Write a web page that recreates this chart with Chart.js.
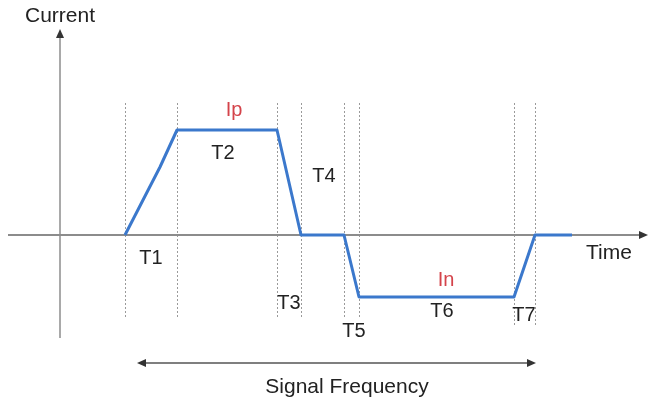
<!DOCTYPE html>
<html>
<head>
<meta charset="utf-8">
<script src="https://cdn.jsdelivr.net/npm/chart.js@4"></script>
<style>
  body { margin: 0; background: #fff; }
  #wrap { width: 650px; height: 403px; }
</style>
</head>
<body>
<div id="wrap"><canvas id="c" width="650" height="403"></canvas></div>
<script>
// waveform (time, current) - arbitrary units
const waveTime = [125, 160, 177, 277, 301, 344, 359, 514, 535, 572];
const waveCurrent = [0, 68, 105, 105, 0, 0, -62, -62, 0, 0];

// dashed marker times (T1..T7 boundaries)
const markTimes = [125, 177, 277, 301, 344, 359, 514, 535];
const markBottom = [-82, -82, -82, -82, -82, -82, -92, -92];

// phase labels
const labelText = ["T1", "T2", "T3", "T4", "T5", "T6", "T7"];
const labelTime = [151, 223, 289, 324, 354, 442, 524];
const labelCurrent = [-23, 82, -68, 59, -96, -76, -80];

// level labels
const levelText = ["Ip", "In"];
const levelTime = [234, 446];
const levelCurrent = [125, -45];

const xRange = [0, 650];
const yRange = [-168, 235];

const blue = "#3b78cc";
const axisGray = "#8c8c8c";
const textColor = "#222";
const red = "#d4434a";

function arrowHead(ctx, x, y, dir) {
  // dir: 'right' | 'left' | 'up'
  ctx.beginPath();
  if (dir === "right") { ctx.moveTo(x, y); ctx.lineTo(x - 9, y - 4); ctx.lineTo(x - 9, y + 4); }
  if (dir === "left") { ctx.moveTo(x, y); ctx.lineTo(x + 9, y - 4); ctx.lineTo(x + 9, y + 4); }
  if (dir === "up") { ctx.moveTo(x, y); ctx.lineTo(x - 4, y + 9); ctx.lineTo(x + 4, y + 9); }
  ctx.closePath();
  ctx.fill();
}

const diagram = {
  id: "diagram",
  beforeDatasetsDraw(chart) {
    const ctx = chart.ctx;
    const xs = chart.scales.x, ys = chart.scales.y;
    ctx.save();
    // dashed markers
    ctx.strokeStyle = "#9a9a9a";
    ctx.lineWidth = 1;
    ctx.setLineDash([2, 2]);
    markTimes.forEach((t, i) => {
      const px = Math.round(xs.getPixelForValue(t)) + 0.5;
      ctx.beginPath();
      ctx.moveTo(px, ys.getPixelForValue(132));
      ctx.lineTo(px, ys.getPixelForValue(markBottom[i]));
      ctx.stroke();
    });
    ctx.setLineDash([]);
    // time axis
    const y0 = ys.getPixelForValue(0);
    ctx.strokeStyle = axisGray;
    ctx.fillStyle = "#333";
    ctx.lineWidth = 2;
    ctx.beginPath();
    ctx.moveTo(xs.getPixelForValue(8), y0);
    ctx.lineTo(xs.getPixelForValue(640), y0);
    ctx.stroke();
    arrowHead(ctx, xs.getPixelForValue(648), y0, "right");
    // current axis
    const x0 = xs.getPixelForValue(60);
    ctx.lineWidth = 1.5;
    ctx.beginPath();
    ctx.moveTo(x0, ys.getPixelForValue(-103));
    ctx.lineTo(x0, ys.getPixelForValue(198));
    ctx.stroke();
    arrowHead(ctx, x0, ys.getPixelForValue(206), "up");
    // signal frequency arrow
    const yf = ys.getPixelForValue(-128);
    ctx.lineWidth = 1.5;
    ctx.strokeStyle = "#555";
    ctx.beginPath();
    ctx.moveTo(xs.getPixelForValue(144), yf);
    ctx.lineTo(xs.getPixelForValue(529), yf);
    ctx.stroke();
    arrowHead(ctx, xs.getPixelForValue(137), yf, "left");
    arrowHead(ctx, xs.getPixelForValue(536), yf, "right");
    ctx.restore();
  },
  afterDraw(chart) {
    const ctx = chart.ctx;
    const xs = chart.scales.x, ys = chart.scales.y;
    ctx.save();
    ctx.textAlign = "center";
    ctx.textBaseline = "middle";
    ctx.font = "20px 'Liberation Sans', Arial, sans-serif";
    ctx.fillStyle = textColor;
    labelText.forEach((t, i) => {
      ctx.fillText(t, xs.getPixelForValue(labelTime[i]), ys.getPixelForValue(labelCurrent[i]));
    });
    ctx.fillStyle = red;
    levelText.forEach((t, i) => {
      ctx.fillText(t, xs.getPixelForValue(levelTime[i]), ys.getPixelForValue(levelCurrent[i]));
    });
    ctx.fillStyle = textColor;
    ctx.font = "21px 'Liberation Sans', Arial, sans-serif";
    ctx.fillText("Current", xs.getPixelForValue(60), ys.getPixelForValue(219));
    ctx.fillText("Time", xs.getPixelForValue(609), ys.getPixelForValue(-18));
    ctx.fillText("Signal Frequency", xs.getPixelForValue(347), ys.getPixelForValue(-152));
    ctx.restore();
  }
};

new Chart(document.getElementById("c"), {
  type: "scatter",
  data: {
    datasets: [{
      data: waveTime.map((t, i) => ({ x: t, y: waveCurrent[i] })),
      showLine: true,
      borderColor: blue,
      borderWidth: 3,
      pointRadius: 0,
      tension: 0,
      borderJoinStyle: "round"
    }]
  },
  options: {
    responsive: false,
    animation: false,
    layout: { padding: 0 },
    plugins: { legend: { display: false }, tooltip: { enabled: false } },
    scales: {
      x: { type: "linear", min: xRange[0], max: xRange[1], display: false },
      y: { type: "linear", min: yRange[0], max: yRange[1], display: false }
    }
  },
  plugins: [diagram]
});
</script>
</body>
</html>
